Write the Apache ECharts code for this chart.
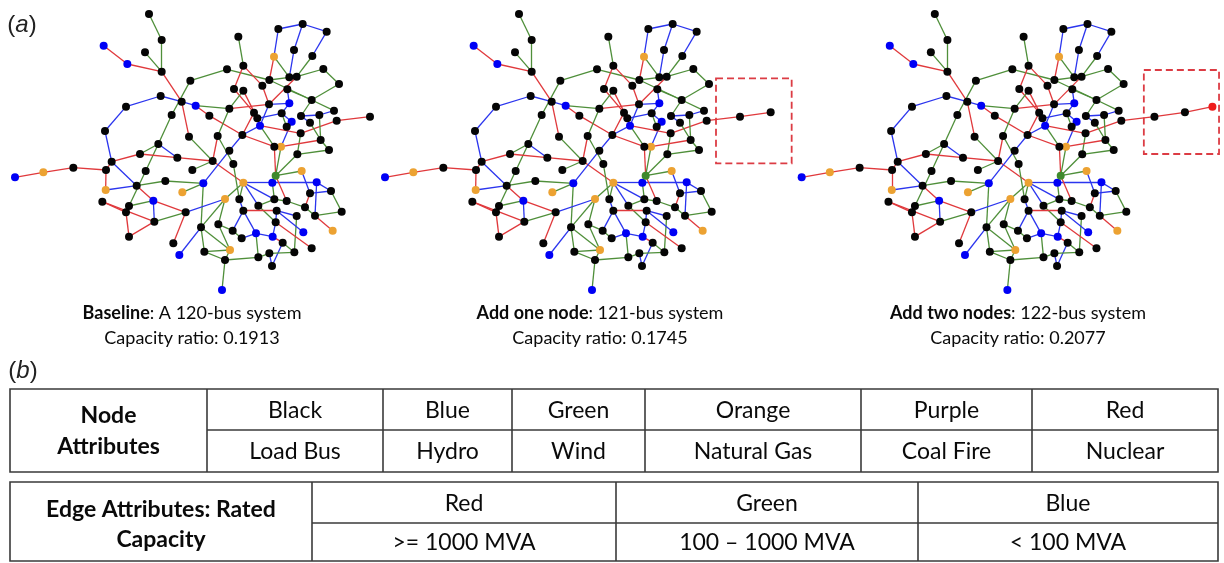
<!DOCTYPE html>
<html><head><meta charset="utf-8">
<script src="https://cdn.jsdelivr.net/npm/echarts@6/dist/echarts.min.js"></script>
<style>html,body{margin:0;padding:0;background:#fff}#chart{width:1224px;height:563px}</style>
</head><body><div id="chart"></div>
<script>
// ---- Bus positions (layout units), bus ids are 1-based ----
const nodeX = [417,455,405,281,352,455,541,651,685,700, 452,515,557,348,485,285,598,658,672,700,
  757,792,805,878,950,852,907,778,838,860, 940,987,832,838,905,777,732,742,815,750,
  845,830,873,928,972,980,900,872,932,957, 862,813,793,697,623,537,445,502,390,305,
  288,190,100,15,407,466,547,608,658,670, 580,517,380,287,277,357,348,430,433,527,
  357,490,508,573,583,645,645,700,688,700, 625,668,695,660,745,738,745,778,786,787,
  797,875,920,963,900,995,793,830,885,915, 800,860,797,880,968,788,818,853,905,636,
  1080,1172,1255];
const nodeY = [42,120,157,137,192,215,242,208,110,197, 288,305,317,320,345,393,347,326,267,272,
  257,170,87,72,95,150,168,240,232,230, 207,252,268,310,300,313,338,355,340,377,
  365,380,348,345,332,362,368,400,420,450, 463,440,440,405,408,410,432,473,462,485,
  510,503,517,532,513,543,510,483,452,492, 550,577,557,570,605,618,637,602,665,637,
  710,730,765,682,755,597,780,548,598,632, 673,692,715,750,617,700,772,760,798,548,
  527,513,547,573,580,635,598,603,622,647, 632,648,667,697,692,710,728,757,745,870,
  350,337,320];
// k=load bus(black) b=hydro(blue) g=wind(green) o=natural gas(orange) r=nuclear(red)
const nodeKind = ('kkkbbkkkkk'+'kkbkkkkkkk'+'kokkkkkkkk'+'kkkbkkkkkb'+'bkkkkkkkkk'+
  'kokkkkkkkk'+'kkobkkkkkk'+'bokokkkbkk'+'kkbkkokokk'+'kkkokbkkkb'+'gobkkkkkkk'+'kkkbobkkkb'+'kkr').split('');
// edges: [from, to, rating]  r = >=1000 MVA, g = 100-1000 MVA, u = <100 MVA
const edges = [
 [1,2,'g'],[2,6,'g'],[3,6,'g'],[4,5,'r'],[5,6,'r'],[6,12,'r'],[12,56,'r'],[11,12,'u'],[12,13,'u'],
 [14,11,'u'],[16,14,'u'],[16,60,'u'],[7,8,'g'],[7,15,'g'],[15,57,'g'],[57,65,'g'],[65,77,'g'],
 [57,58,'u'],[57,59,'g'],[59,58,'r'],[58,68,'r'],[59,60,'r'],[60,61,'r'],[61,62,'r'],[62,63,'r'],
 [63,64,'r'],[61,74,'r'],[60,73,'u'],[74,73,'u'],[73,66,'g'],[66,71,'g'],[71,72,'g'],[71,84,'g'],
 [73,78,'r'],[75,77,'r'],[75,79,'r'],[76,78,'g'],[77,81,'r'],[81,79,'r'],[78,79,'u'],[79,80,'g'],
 [78,80,'r'],[80,86,'u'],[80,82,'r'],[83,84,'u'],[84,85,'g'],[84,86,'g'],[84,94,'g'],[85,87,'g'],
 [87,97,'g'],[87,120,'g'],[86,91,'g'],[91,94,'g'],[91,92,'g'],[9,10,'g'],[8,28,'g'],[10,19,'r'],
 [10,21,'r'],[19,37,'r'],[20,38,'r'],[20,18,'g'],[21,36,'r'],[13,18,'g'],[13,17,'r'],[17,54,'r'],
 [54,53,'r'],[18,36,'r'],[18,55,'g'],[55,68,'r'],[55,70,'g'],[56,68,'g'],[68,67,'g'],[68,88,'r'],
 [54,69,'u'],[69,71,'u'],[54,40,'u'],[70,89,'g'],[23,24,'u'],[24,25,'u'],[23,22,'u'],[24,26,'u'],
 [25,27,'u'],[26,29,'u'],[27,30,'g'],[22,28,'r'],[22,29,'g'],[28,29,'g'],[30,31,'g'],[31,32,'g'],
 [32,35,'g'],[28,35,'g'],[33,35,'g'],[30,36,'r'],[33,34,'u'],[36,34,'u'],[36,40,'u'],[34,39,'u'],
 [38,39,'u'],[39,41,'u'],[41,52,'u'],[40,53,'g'],[40,48,'r'],[48,46,'r'],[46,121,'r'],[121,122,'r'],
 [122,123,'r'],[35,43,'g'],[43,44,'u'],[44,45,'u'],[35,45,'g'],[44,49,'g'],[47,49,'g'],[43,47,'u'],
 [48,51,'g'],[49,50,'g'],[50,51,'g'],[52,49,'r'],[53,101,'r'],[52,101,'g'],[101,51,'g'],[101,102,'g'],
 [100,103,'u'],[102,105,'u'],[103,104,'u'],[104,106,'g'],[105,104,'u'],[105,109,'r'],[109,110,'g'],
 [110,106,'g'],[103,110,'u'],[101,108,'r'],[110,115,'r'],[108,109,'g'],[107,108,'g'],[95,107,'g'],
 [95,113,'g'],[90,111,'r'],[111,112,'u'],[112,118,'g'],[113,119,'r'],[111,114,'u'],[100,107,'g'],
 [88,107,'u'],[88,100,'u'],[88,95,'u'],[88,89,'g'],[89,90,'u'],[90,96,'u'],[90,92,'u'],[92,93,'g'],
 [93,96,'u'],[96,116,'u'],[96,97,'g'],[116,117,'r'],[117,118,'g'],[113,116,'u'],[111,113,'u'],
 [85,94,'g'],[94,87,'g'],[97,98,'g'],[98,99,'u'],[99,117,'u'],[98,118,'g'],[86,88,'g'],[37,54,'r'],
 [39,42,'g']
];
const panelNodeCount = [121, 122, 123];
const panelTitles = ['Baseline', 'Add one node', 'Add two nodes'];
const panelSystems = ['A 120-bus system', '121-bus system', '122-bus system'];
const capacityRatios = [0.1913, 0.1745, 0.2077];
const highlightBoxes = [null, [1008,235,1235,490], [1048,210,1275,462]];
const nodeColorNames = ['Black','Blue','Green','Orange','Purple','Red'];
const nodeTypeNames = ['Load Bus','Hydro','Wind','Natural Gas','Coal Fire','Nuclear'];
const edgeColorNames = ['Red','Green','Blue'];
const edgeCapacityRanges = ['>= 1000 MVA','100 \u2013 1000 MVA','< 100 MVA'];

// ---- styling / layout ----
const NODE_COLORS = {k:'#050505', b:'#0000f5', g:'#3f8a2c', o:'#eca232', r:'#ee1c1c'};
const EDGE_COLORS = {r:'#e0393c', g:'#4f8f3a', u:'#2b35ee'};
const panelLeft = [10, 380, 796.7];
const panelLabelX = [192, 600, 1018];
const FONT = 'Lato, "Open Sans", sans-serif';
const TEXT = '#0a0a0a';

const chart = echarts.init(document.getElementById('chart'), null, {renderer:'canvas'});
const grids = [], xAxes = [], yAxes = [], series = [];
panelNodeCount.forEach((count, i) => {
  grids.push({left: panelLeft[i], top: 0, width: 430, height: 300});
  xAxes.push({type:'value', gridIndex:i, min:0, max:1290, show:false});
  yAxes.push({type:'value', gridIndex:i, min:0, max:900, inverse:true, show:false});
  const data = [];
  for (let k = 0; k < count; k++) {
    data.push({value:[nodeX[k], nodeY[k]], itemStyle:{color: NODE_COLORS[nodeKind[k]]}});
  }
  const links = edges.filter(e => e[0] <= count && e[1] <= count).map(e => ({
    source: e[0]-1, target: e[1]-1, lineStyle:{color: EDGE_COLORS[e[2]]}
  }));
  series.push({
    type:'graph', coordinateSystem:'cartesian2d', xAxisIndex:i, yAxisIndex:i,
    symbol:'circle', symbolSize:8, silent:true, animation:false,
    data, links, label:{show:false}, emphasis:{disabled:true},
    lineStyle:{width:1.3, opacity:1, curveness:0}, itemStyle:{borderWidth:0}
  });
  const b = highlightBoxes[i];
  if (b) {
    series.push({
      type:'scatter', xAxisIndex:i, yAxisIndex:i, data:[], silent:true,
      markArea:{silent:true, itemStyle:{color:'rgba(0,0,0,0)', borderColor:'#dc3c44', borderWidth:1.8, borderType:[7,4]},
        data:[[{coord:[b[0], b[1]]}, {coord:[b[2], b[3]]}]]}
    });
  }
});

const graphic = [];
const txt = (x, y, text, opt) => graphic.push({type:'text', x, y, silent:true,
  style: Object.assign({text, align:'center', verticalAlign:'middle', fill:TEXT, fontFamily:FONT, fontSize:18}, opt||{})});
const LS = '"Liberation Sans", Arial, sans-serif';
txt(22, 25, '({i|a})', {fontFamily:LS, fontSize:24, fill:'#222', rich:{i:{fontStyle:'italic', fontFamily:LS, fontSize:24, fill:'#222'}}});
txt(23, 371, '({i|b})', {fontFamily:LS, fontSize:24, fill:'#222', rich:{i:{fontStyle:'italic', fontFamily:LS, fontSize:24, fill:'#222'}}});
panelTitles.forEach((t, i) => {
  txt(panelLabelX[i], 313, '{b|' + t + '}: ' + panelSystems[i], {rich:{b:{fontWeight:'bold', fontFamily:FONT, fontSize:18, fill:TEXT}}});
  txt(panelLabelX[i], 338, 'Capacity ratio: ' + capacityRatios[i].toFixed(4));
});

// tables
const BORDER = {stroke:'#3a3a3a', lineWidth:1.6};
const rect = (x, y, w, h) => graphic.push({type:'rect', silent:true, shape:{x, y, width:w, height:h}, style:Object.assign({}, BORDER, {fill:'none'})});
const line = (x1, y1, x2, y2) => graphic.push({type:'line', silent:true, shape:{x1, y1, x2, y2}, style:BORDER});
const nodeCols = [10, 207, 383, 512, 645, 861, 1032, 1218];
const t1 = [389, 430, 472];
rect(nodeCols[0], t1[0], nodeCols[7]-nodeCols[0], t1[2]-t1[0]);
line(nodeCols[1], t1[1], nodeCols[7], t1[1]);
for (let c = 1; c < 7; c++) line(nodeCols[c], t1[0], nodeCols[c], t1[2]);
txt((nodeCols[0]+nodeCols[1])/2, 416, 'Node', {fontSize:23, fontWeight:'bold'});
txt((nodeCols[0]+nodeCols[1])/2, 447, 'Attributes', {fontSize:23, fontWeight:'bold'});
nodeColorNames.forEach((n, j) => {
  const cx = (nodeCols[j+1] + nodeCols[j+2]) / 2;
  txt(cx, (t1[0]+t1[1])/2 + 1, n, {fontSize:23});
  txt(cx, (t1[1]+t1[2])/2 + 1, nodeTypeNames[j], {fontSize:23});
});
const edgeCols = [10, 312, 616, 918, 1218];
const t2 = [482, 523, 561];
rect(edgeCols[0], t2[0], edgeCols[4]-edgeCols[0], t2[2]-t2[0]);
line(edgeCols[1], t2[1], edgeCols[4], t2[1]);
for (let c = 1; c < 4; c++) line(edgeCols[c], t2[0], edgeCols[c], t2[2]);
txt((edgeCols[0]+edgeCols[1])/2, 510, 'Edge Attributes: Rated', {fontSize:23, fontWeight:'bold'});
txt((edgeCols[0]+edgeCols[1])/2, 540, 'Capacity', {fontSize:23, fontWeight:'bold'});
edgeColorNames.forEach((n, j) => {
  const cx = (edgeCols[j+1] + edgeCols[j+2]) / 2;
  txt(cx, (t2[0]+t2[1])/2 + 1, n, {fontSize:23});
  txt(cx, (t2[1]+t2[2])/2 + 1, edgeCapacityRanges[j], {fontSize:23});
});

chart.setOption({animation:false, grid:grids, xAxis:xAxes, yAxis:yAxes, series, graphic});
</script></body></html>
